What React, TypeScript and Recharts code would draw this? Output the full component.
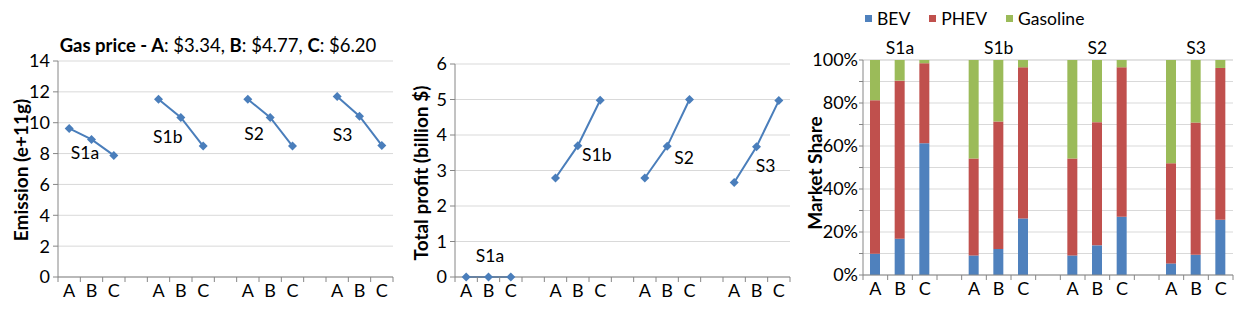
import React from 'react';
import { LineChart, Line, BarChart, Bar, XAxis, YAxis, CartesianGrid, Legend } from 'recharts';

// ---------- data ----------
const scenarios = ['S1a', 'S1b', 'S2', 'S3'];
const gasLevels = ['A', 'B', 'C'];
const gasPrices = ['$3.34', '$4.77', '$6.20'];

const emissionS1a = [9.63, 8.92, 7.88];
const emissionS1b = [11.52, 10.34, 8.49];
const emissionS2 = [11.52, 10.34, 8.49];
const emissionS3 = [11.7, 10.42, 8.53];

const profitS1a = [0, 0, 0];
const profitS1b = [2.79, 3.7, 4.98];
const profitS2 = [2.79, 3.68, 5.0];
const profitS3 = [2.66, 3.67, 4.97];

// market share (%) per scenario x gas level, order S1a A,B,C, S1b A,B,C, S2 ..., S3 ...
const bevShare = [9.9, 16.9, 61.3, 9.1, 12.1, 26.3, 9.1, 13.8, 27.1, 5.4, 9.4, 25.7];
const phevShare = [71.4, 73.5, 37.2, 45.1, 59.3, 70.3, 45.1, 57.3, 69.5, 46.6, 61.5, 70.6];
const gasolineShare = [18.7, 9.6, 1.5, 45.8, 28.6, 3.4, 45.8, 28.9, 3.4, 48.0, 29.1, 3.7];

const emissionTicks = [0, 2, 4, 6, 8, 10, 12, 14];
const profitTicks = [0, 1, 2, 3, 4, 5, 6];
const shareTicks = [0, 10, 20, 30, 40, 50, 60, 70, 80, 90, 100];

// ---------- styling ----------
const FONT = 'Lato, "Open Sans", sans-serif';
const TEXT = '#000000';
const AXIS = '#868686';
const GRID = '#D9D9D9';
const LINE = '#4A7EBB';
const BEV = '#4F81BD';
const PHEV = '#C0504D';
const GAS = '#9BBB59';
const TICK_FS = 18;
const NOTE_FS = 17.5;

type Row = { [k: string]: any };

function buildRows(fill: (row: Row, si: number, gi: number) => void): Row[] {
  const rows: Row[] = [];
  scenarios.forEach((s, si) => {
    gasLevels.forEach((g, gi) => {
      const row: Row = { key: `${s}-${g}`, level: g, scenario: s };
      fill(row, si, gi);
      rows.push(row);
    });
    if (si < scenarios.length - 1) rows.push({ key: `gap${si}`, level: '', scenario: '' });
  });
  return rows;
}

const emissionBy: Record<string, number[]> = { S1a: emissionS1a, S1b: emissionS1b, S2: emissionS2, S3: emissionS3 };
const profitBy: Record<string, number[]> = { S1a: profitS1a, S1b: profitS1b, S2: profitS2, S3: profitS3 };

const emissionRows = buildRows((row, si, gi) => {
  row[scenarios[si]] = emissionBy[scenarios[si]][gi];
});
const profitRows = buildRows((row, si, gi) => {
  row[scenarios[si]] = profitBy[scenarios[si]][gi];
});
const shareRows = buildRows((row, si, gi) => {
  row.BEV = bevShare[si * 3 + gi];
  row.PHEV = phevShare[si * 3 + gi];
  row.Gasoline = gasolineShare[si * 3 + gi];
});

const levelOf = (key: string) => (key.includes('-') ? key.split('-')[1] : '');
const scenarioOf = (key: string) => (key.includes('-') ? key.split('-')[0] : '');

const makeBandTick = (band: number, count: number, labelOffset: number) => (props: any) => {
  const { x, y, payload, index } = props;
  return (
    <g>
      <line x1={x - band / 2} x2={x - band / 2} y1={y} y2={y + 5} stroke={AXIS} strokeWidth={1} />
      {index === count - 1 ? (
        <line x1={x + band / 2} x2={x + band / 2} y1={y} y2={y + 5} stroke={AXIS} strokeWidth={1} />
      ) : null}
      <text x={x} y={y + labelOffset} textAnchor="middle" dominantBaseline="central" fill={TEXT} fontSize={TICK_FS} fontFamily={FONT}>
        {levelOf(String(payload.value))}
      </text>
    </g>
  );
};

type Annot = { anchor: number; dx: number; dy: number };

const makeDot = (scenario: string, annot: Annot) => (props: any) => {
  const { cx, cy, value, index, payload } = props;
  const k = `${scenario}-${index}`;
  if (cx == null || cy == null || value == null || payload == null || payload.scenario !== scenario) return <g key={k} />;
  const r = 4.5;
  const showLabel = payload.level === gasLevels[annot.anchor];
  return (
    <g key={k}>
      <polygon points={`${cx},${cy - r} ${cx + r},${cy} ${cx},${cy + r} ${cx - r},${cy}`} fill={LINE} />
      {showLabel ? (
        <text x={cx + annot.dx} y={cy + annot.dy} textAnchor="middle" dominantBaseline="central" fill={TEXT} fontSize={NOTE_FS} fontFamily={FONT}>
          {scenario}
        </text>
      ) : null}
    </g>
  );
};

const yTick = { fill: TEXT, fontSize: TICK_FS, fontFamily: FONT };

const emissionAnnots: Record<string, Annot> = {
  S1a: { anchor: 1, dx: -6.5, dy: 13 },
  S1b: { anchor: 1, dx: -13, dy: 19 },
  S2: { anchor: 1, dx: -16, dy: 16.5 },
  S3: { anchor: 1, dx: -17, dy: 18 },
};
const profitAnnots: Record<string, Annot> = {
  S1a: { anchor: 1, dx: 1.5, dy: -22 },
  S1b: { anchor: 1, dx: 19, dy: 9 },
  S2: { anchor: 1, dx: 17, dy: 11 },
  S3: { anchor: 1, dx: 9, dy: 19 },
};

const AxisTitle = ({ cx, cy, text }: { cx: number; cy: number; text: string }) => (
  <div
    style={{
      position: 'absolute',
      left: cx,
      top: cy,
      transform: 'translate(-50%, -50%) rotate(-90deg)',
      whiteSpace: 'nowrap',
      fontFamily: FONT,
      fontWeight: 700,
      fontSize: 19,
      color: TEXT,
      lineHeight: 1,
    }}
  >
    {text}
  </div>
);

function LinePanel(props: {
  rows: Row[];
  left: number;
  width: number;
  margin: { top: number; right: number; bottom: number; left: number };
  yWidth: number;
  domain: [number, number];
  ticks: number[];
  annots: Record<string, Annot>;
}) {
  const { rows, left, width, margin, yWidth, domain, ticks, annots } = props;
  const plotW = width - margin.left - margin.right - yWidth;
  const band = plotW / rows.length;
  return (
    <div style={{ position: 'absolute', left, top: 0 }}>
      <LineChart width={width} height={311} data={rows} margin={margin}>
        <CartesianGrid vertical={false} stroke={GRID} />
        <XAxis
          dataKey="key"
          interval={0}
          padding={{ left: band / 2, right: band / 2 }}
          tickSize={0}
          tickMargin={0}
          tickLine={false}
          height={30}
          axisLine={{ stroke: AXIS }}
          tick={makeBandTick(band, rows.length, 12.5)}
        />
        <YAxis
          width={yWidth}
          domain={domain}
          ticks={ticks}
          interval={0}
          tickSize={5}
          tickMargin={3}
          axisLine={{ stroke: AXIS }}
          tickLine={{ stroke: AXIS }}
          tick={yTick}
        />
        {scenarios.map((s) => (
          <Line
            key={s}
            dataKey={s}
            stroke={LINE}
            strokeWidth={2}
            isAnimationActive={false}
            connectNulls={false}
            dot={makeDot(s, annots[s])}
            activeDot={false}
          />
        ))}
      </LineChart>
    </div>
  );
}

const legendItems = [
  { name: 'BEV', color: BEV },
  { name: 'PHEV', color: PHEV },
  { name: 'Gasoline', color: GAS },
];

const renderLegend = () => (
  <div style={{ display: 'flex', alignItems: 'center', fontFamily: FONT, fontSize: 17.5, color: TEXT, whiteSpace: 'nowrap' }}>
    {legendItems.map((p, i) => (
      <div key={i} style={{ display: 'flex', alignItems: 'center', marginRight: 19 }}>
        <span style={{ display: 'inline-block', width: 7, height: 7, background: p.color, marginRight: 5 }} />
        <span>{p.name}</span>
      </div>
    ))}
  </div>
);

const groupTick = (props: any) => {
  const { x, y, payload } = props;
  const key = String(payload.value);
  if (levelOf(key) !== 'B') return <g />;
  return (
    <text x={x} y={y - 13} textAnchor="middle" dominantBaseline="central" fill={TEXT} fontSize={NOTE_FS} fontFamily={FONT}>
      {scenarioOf(key)}
    </text>
  );
};

function SharePanel() {
  const width = 441;
  const margin = { top: 40, right: 8, bottom: 6, left: 18 };
  const yWidth = 45;
  const plotW = width - margin.left - margin.right - yWidth;
  const band = plotW / shareRows.length;
  return (
    <div style={{ position: 'absolute', left: 800, top: 0 }}>
      <BarChart width={width} height={311} data={shareRows} margin={margin}>
        <CartesianGrid vertical={false} stroke={GRID} />
        <XAxis
          dataKey="key"
          interval={0}
          tickSize={0}
          tickMargin={0}
          tickLine={false}
          height={30}
          axisLine={{ stroke: AXIS }}
          tick={makeBandTick(band, shareRows.length, 13)}
        />
        <XAxis
          xAxisId="top"
          orientation="top"
          dataKey="key"
          interval={0}
          tickSize={0}
          tickMargin={0}
          tickLine={false}
          axisLine={false}
          height={20}
          tick={groupTick}
        />
        <YAxis
          width={yWidth}
          domain={[0, 100]}
          ticks={shareTicks}
          interval={0}
          tickSize={4}
          tickMargin={1}
          axisLine={{ stroke: AXIS }}
          tickLine={{ stroke: AXIS }}
          tick={yTick}
          tickFormatter={(v: number) => (Math.round(v) % 20 === 0 ? `${Math.round(v)}%` : '')}
        />
        <Legend
          layout="vertical"
          align="center"
          verticalAlign="middle"
          wrapperStyle={{ position: 'absolute', top: 8, left: 65, width: 'auto', height: 'auto' }}
          content={renderLegend}
        />
        <Bar dataKey="BEV" name="BEV" stackId="s" fill={BEV} barSize={10} isAnimationActive={false} />
        <Bar dataKey="PHEV" name="PHEV" stackId="s" fill={PHEV} barSize={10} isAnimationActive={false} />
        <Bar dataKey="Gasoline" name="Gasoline" stackId="s" fill={GAS} barSize={10} isAnimationActive={false} />
      </BarChart>
    </div>
  );
}

export default function App() {
  return (
    <div style={{ position: 'absolute', left: 0, top: 0, width: 1241, height: 311, background: '#ffffff', overflow: 'hidden' }}>
      <LinePanel
        rows={emissionRows}
        left={0}
        width={410}
        margin={{ top: 61, right: 17, bottom: 4, left: 18 }}
        yWidth={40}
        domain={[0, 14]}
        ticks={emissionTicks}
        annots={emissionAnnots}
      />
      <LinePanel
        rows={profitRows}
        left={405}
        width={400}
        margin={{ top: 64, right: 15, bottom: 4, left: 20 }}
        yWidth={30}
        domain={[0, 6]}
        ticks={profitTicks}
        annots={profitAnnots}
      />
      <SharePanel />
      <div
        style={{
          position: 'absolute',
          left: 218,
          top: 45,
          transform: 'translate(-50%, -50%)',
          whiteSpace: 'nowrap',
          fontFamily: FONT,
          fontSize: 18.5,
          color: TEXT,
          lineHeight: 1,
        }}
      >
        <b>Gas price - {gasLevels[0]}</b>: {gasPrices[0]}, <b>{gasLevels[1]}</b>: {gasPrices[1]}, <b>{gasLevels[2]}</b>: {gasPrices[2]}
      </div>
      <AxisTitle cx={20} cy={170} text="Emission (e+11g)" />
      <AxisTitle cx={420} cy={173} text="Total profit (billion $)" />
      <AxisTitle cx={814} cy={173} text="Market Share" />
    </div>
  );
}
